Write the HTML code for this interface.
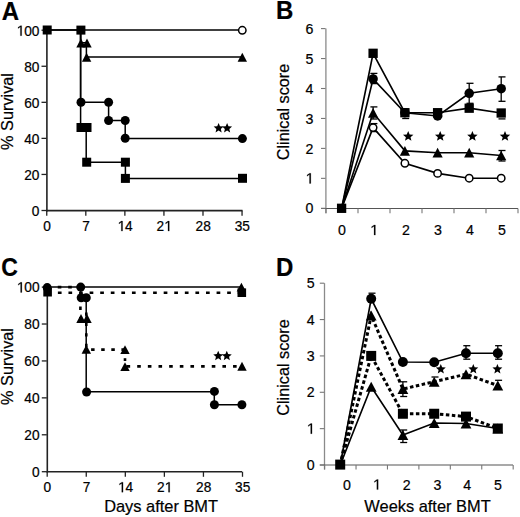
<!DOCTYPE html>
<html><head><meta charset="utf-8"><style>
html,body{margin:0;padding:0;background:#fff;}
svg{display:block;}
text{font-family:"Liberation Sans", sans-serif;fill:#000;stroke:#000;stroke-width:0.2px;}
</style></head><body>
<svg width="520" height="517" viewBox="0 0 520 517">
<rect width="520" height="517" fill="#fff"/>
<line x1="46.9" y1="30" x2="46.9" y2="211.5" stroke="#222" stroke-width="1.6" />
<line x1="46" y1="210.6" x2="242.5" y2="210.6" stroke="#222" stroke-width="1.6" />
<line x1="41.5" y1="210.5" x2="46.5" y2="210.5" stroke="#222" stroke-width="1.3" />
<text transform="translate(31.78,216) scale(1.03,1.1)" font-size="13.3">0</text>
<line x1="41.5" y1="174.44" x2="46.5" y2="174.44" stroke="#222" stroke-width="1.3" />
<text transform="translate(24.16,179.94) scale(1.03,1.1)" font-size="13.3">2</text>
<text transform="translate(31.78,179.94) scale(1.03,1.1)" font-size="13.3">0</text>
<line x1="41.5" y1="138.38" x2="46.5" y2="138.38" stroke="#222" stroke-width="1.3" />
<text transform="translate(24.16,143.88) scale(1.03,1.1)" font-size="13.3">4</text>
<text transform="translate(31.78,143.88) scale(1.03,1.1)" font-size="13.3">0</text>
<line x1="41.5" y1="102.32" x2="46.5" y2="102.32" stroke="#222" stroke-width="1.3" />
<text transform="translate(24.16,107.82) scale(1.03,1.1)" font-size="13.3">6</text>
<text transform="translate(31.78,107.82) scale(1.03,1.1)" font-size="13.3">0</text>
<line x1="41.5" y1="66.26" x2="46.5" y2="66.26" stroke="#222" stroke-width="1.3" />
<text transform="translate(24.16,71.76) scale(1.03,1.1)" font-size="13.3">8</text>
<text transform="translate(31.78,71.76) scale(1.03,1.1)" font-size="13.3">0</text>
<line x1="41.5" y1="30.2" x2="46.5" y2="30.2" stroke="#222" stroke-width="1.3" />
<path d="M575,0V1230L225,1000V1175L590,1409H770V0Z" transform="translate(16.54,35.7) scale(0.00669,-0.00714)" fill="#000" stroke="#000" stroke-width="0.2" vector-effect="non-scaling-stroke"/>
<text transform="translate(24.16,35.7) scale(1.03,1.1)" font-size="13.3">0</text>
<text transform="translate(31.78,35.7) scale(1.03,1.1)" font-size="13.3">0</text>
<line x1="46.75" y1="210.6" x2="46.75" y2="215.8" stroke="#222" stroke-width="1.3" />
<text transform="translate(43.14,231.1) scale(1.03,1.1)" font-size="13.3">0</text>
<line x1="85.81" y1="210.6" x2="85.81" y2="215.8" stroke="#222" stroke-width="1.3" />
<text transform="translate(82.2,231.1) scale(1.03,1.1)" font-size="13.3">7</text>
<line x1="124.87" y1="210.6" x2="124.87" y2="215.8" stroke="#222" stroke-width="1.3" />
<path d="M575,0V1230L225,1000V1175L590,1409H770V0Z" transform="translate(117.45,231.1) scale(0.00669,-0.00714)" fill="#000" stroke="#000" stroke-width="0.2" vector-effect="non-scaling-stroke"/>
<text transform="translate(125.07,231.1) scale(1.03,1.1)" font-size="13.3">4</text>
<line x1="163.93" y1="210.6" x2="163.93" y2="215.8" stroke="#222" stroke-width="1.3" />
<text transform="translate(156.51,231.1) scale(1.03,1.1)" font-size="13.3">2</text>
<path d="M575,0V1230L225,1000V1175L590,1409H770V0Z" transform="translate(164.13,231.1) scale(0.00669,-0.00714)" fill="#000" stroke="#000" stroke-width="0.2" vector-effect="non-scaling-stroke"/>
<line x1="202.99" y1="210.6" x2="202.99" y2="215.8" stroke="#222" stroke-width="1.3" />
<text transform="translate(195.57,231.1) scale(1.03,1.1)" font-size="13.3">2</text>
<text transform="translate(203.19,231.1) scale(1.03,1.1)" font-size="13.3">8</text>
<line x1="242.05" y1="210.6" x2="242.05" y2="215.8" stroke="#222" stroke-width="1.3" />
<text transform="translate(234.63,231.1) scale(1.03,1.1)" font-size="13.3">3</text>
<text transform="translate(242.25,231.1) scale(1.03,1.1)" font-size="13.3">5</text>
<text transform="translate(1.8,19.7) scale(1,1.07)" font-size="24" text-anchor="start" font-weight="bold" >A</text>
<text transform="translate(13.2,111.5) rotate(-90)" font-size="16.3" text-anchor="middle">% Survival</text>
<polyline points="47,30.1 242.3,30.1" fill="none" stroke="#000" stroke-width="1.5" stroke-linecap="butt" stroke-linejoin="miter"/>
<polyline points="47,30.1 80.6,30.1 80.6,42.8 86.4,42.8 86.4,57.1 242.3,57.1" fill="none" stroke="#000" stroke-width="1.5" stroke-linecap="butt" stroke-linejoin="miter"/>
<polyline points="80.6,30 80.6,102.3 108.6,102.3 108.6,120.5 125.2,120.5 125.2,138.4 242.4,138.4" fill="none" stroke="#000" stroke-width="1.5" stroke-linecap="butt" stroke-linejoin="miter"/>
<polyline points="80.6,30 80.6,127.5 86.2,127.5 86.2,162.2 125.4,162.2 125.4,178.4 242.5,178.4" fill="none" stroke="#000" stroke-width="1.5" stroke-linecap="butt" stroke-linejoin="miter"/>
<circle cx="242.3" cy="30.3" r="3.7" fill="#fff" stroke="#000" stroke-width="1.5"/>
<rect x="42.7" y="25.5" width="9" height="9" fill="#000"/>
<rect x="76.4" y="25.6" width="9" height="9" fill="#000"/>
<polygon points="81,38.55 76.3,47.45 85.7,47.45" fill="#000"/>
<polygon points="87,38.55 82.3,47.45 91.7,47.45" fill="#000"/>
<polygon points="86.6,52.85 81.9,61.75 91.3,61.75" fill="#000"/>
<polygon points="242.3,52.85 237.6,61.75 247,61.75" fill="#000"/>
<circle cx="81" cy="102.3" r="4.5" fill="#000"/>
<circle cx="108.6" cy="102.3" r="4.5" fill="#000"/>
<circle cx="108.6" cy="120.5" r="4.5" fill="#000"/>
<circle cx="125.2" cy="120.5" r="4.5" fill="#000"/>
<circle cx="125.2" cy="138.3" r="4.5" fill="#000"/>
<circle cx="242.4" cy="138.6" r="4.5" fill="#000"/>
<rect x="76.5" y="123" width="9" height="9" fill="#000"/>
<rect x="82.5" y="123" width="9" height="9" fill="#000"/>
<rect x="82.2" y="157.7" width="9" height="9" fill="#000"/>
<rect x="120.9" y="157.7" width="9" height="9" fill="#000"/>
<rect x="120.9" y="173.9" width="9" height="9" fill="#000"/>
<rect x="238" y="173.8" width="9" height="9" fill="#000"/>
<polygon points="218.6,123 219.98,126.3 223.55,126.59 220.83,128.93 221.66,132.41 218.6,130.55 215.54,132.41 216.37,128.93 213.65,126.59 217.22,126.3" fill="#000"/>
<polygon points="227.1,123 228.48,126.3 232.05,126.59 229.33,128.93 230.16,132.41 227.1,130.55 224.04,132.41 224.87,128.93 222.15,126.59 225.72,126.3" fill="#000"/>
<line x1="325.9" y1="28.6" x2="325.9" y2="213.2" stroke="#8a8a8a" stroke-width="1.3" />
<line x1="321" y1="208.5" x2="518" y2="208.5" stroke="#555" stroke-width="1.1" />
<line x1="321" y1="208.3" x2="325.5" y2="208.3" stroke="#777" stroke-width="1.1" />
<text transform="translate(305.5,213.4) scale(1,1.04)" font-size="14.2">0</text>
<line x1="321" y1="178.35" x2="325.5" y2="178.35" stroke="#777" stroke-width="1.1" />
<path d="M575,0V1230L225,1000V1175L590,1409H770V0Z" transform="translate(305.5,183.45) scale(0.00693,-0.00721)" fill="#000" stroke="#000" stroke-width="0.2" vector-effect="non-scaling-stroke"/>
<line x1="321" y1="148.4" x2="325.5" y2="148.4" stroke="#777" stroke-width="1.1" />
<text transform="translate(305.5,153.5) scale(1,1.04)" font-size="14.2">2</text>
<line x1="321" y1="118.45" x2="325.5" y2="118.45" stroke="#777" stroke-width="1.1" />
<text transform="translate(305.5,123.55) scale(1,1.04)" font-size="14.2">3</text>
<line x1="321" y1="88.5" x2="325.5" y2="88.5" stroke="#777" stroke-width="1.1" />
<text transform="translate(305.5,93.6) scale(1,1.04)" font-size="14.2">4</text>
<line x1="321" y1="58.55" x2="325.5" y2="58.55" stroke="#777" stroke-width="1.1" />
<text transform="translate(305.5,63.65) scale(1,1.04)" font-size="14.2">5</text>
<line x1="321" y1="28.6" x2="325.5" y2="28.6" stroke="#777" stroke-width="1.1" />
<text transform="translate(305.5,33.7) scale(1,1.04)" font-size="14.2">6</text>
<line x1="326" y1="208.5" x2="326" y2="213.2" stroke="#777" stroke-width="1.1" />
<line x1="358" y1="208.5" x2="358" y2="213.2" stroke="#777" stroke-width="1.1" />
<line x1="390" y1="208.5" x2="390" y2="213.2" stroke="#777" stroke-width="1.1" />
<line x1="422" y1="208.5" x2="422" y2="213.2" stroke="#777" stroke-width="1.1" />
<line x1="454" y1="208.5" x2="454" y2="213.2" stroke="#777" stroke-width="1.1" />
<line x1="486" y1="208.5" x2="486" y2="213.2" stroke="#777" stroke-width="1.1" />
<line x1="518" y1="208.5" x2="518" y2="213.2" stroke="#777" stroke-width="1.1" />
<text transform="translate(338.05,235.1) scale(1,1.04)" font-size="14.2">0</text>
<path d="M575,0V1230L225,1000V1175L590,1409H770V0Z" transform="translate(370.05,235.1) scale(0.00693,-0.00721)" fill="#000" stroke="#000" stroke-width="0.2" vector-effect="non-scaling-stroke"/>
<text transform="translate(402.05,235.1) scale(1,1.04)" font-size="14.2">2</text>
<text transform="translate(434.05,235.1) scale(1,1.04)" font-size="14.2">3</text>
<text transform="translate(466.05,235.1) scale(1,1.04)" font-size="14.2">4</text>
<text transform="translate(498.05,235.1) scale(1,1.04)" font-size="14.2">5</text>
<text transform="translate(276,19.2) scale(1,1.07)" font-size="24" text-anchor="start" font-weight="bold" >B</text>
<text transform="translate(288.7,112) rotate(-90)" font-size="16.25" text-anchor="middle">Clinical score</text>
<polyline points="341.6,208.3 373.1,127.6 404.9,163.3 437.6,173.4 469.2,178.2 501.2,178.2" fill="none" stroke="#000" stroke-width="1.65" stroke-linecap="butt" stroke-linejoin="miter"/>
<polyline points="341.6,208.3 373.1,112.8 404.9,150.9 437.6,152.7 469.2,152.7 501.2,155.5" fill="none" stroke="#000" stroke-width="1.65" stroke-linecap="butt" stroke-linejoin="miter"/>
<polyline points="341.6,208.3 373.1,78.9 404.9,112.7 437.6,116 469.2,93.3 501.2,88.7" fill="none" stroke="#000" stroke-width="1.65" stroke-linecap="butt" stroke-linejoin="miter"/>
<polyline points="341.6,208.3 373.1,53.3 404.9,112.7 437.6,112.7 469.2,108.2 501.2,113" fill="none" stroke="#000" stroke-width="1.65" stroke-linecap="butt" stroke-linejoin="miter"/>
<line x1="373.1" y1="73.4" x2="373.1" y2="83.6" stroke="#000" stroke-width="1.3" />
<line x1="370.4" y1="73.4" x2="377.4" y2="73.4" stroke="#000" stroke-width="1.3" />
<line x1="370.4" y1="83.6" x2="377.4" y2="83.6" stroke="#000" stroke-width="1.3" />
<line x1="373.1" y1="106.9" x2="373.1" y2="119" stroke="#000" stroke-width="1.3" />
<line x1="370.4" y1="106.9" x2="377.4" y2="106.9" stroke="#000" stroke-width="1.3" />
<line x1="370.4" y1="119" x2="377.4" y2="119" stroke="#000" stroke-width="1.3" />
<line x1="373.1" y1="123.6" x2="373.1" y2="131.6" stroke="#000" stroke-width="1.3" />
<line x1="370.4" y1="123.6" x2="377.4" y2="123.6" stroke="#000" stroke-width="1.3" />
<line x1="370.4" y1="131.6" x2="377.4" y2="131.6" stroke="#000" stroke-width="1.3" />
<line x1="402.2" y1="118.5" x2="409.2" y2="118.5" stroke="#000" stroke-width="1.3" />
<line x1="469.2" y1="83.3" x2="469.2" y2="103.3" stroke="#000" stroke-width="1.3" />
<line x1="466.5" y1="83.3" x2="473.5" y2="83.3" stroke="#000" stroke-width="1.3" />
<line x1="466.5" y1="103.3" x2="473.5" y2="103.3" stroke="#000" stroke-width="1.3" />
<line x1="501.2" y1="76.9" x2="501.2" y2="101.3" stroke="#000" stroke-width="1.3" />
<line x1="498.5" y1="76.9" x2="505.5" y2="76.9" stroke="#000" stroke-width="1.3" />
<line x1="498.5" y1="101.3" x2="505.5" y2="101.3" stroke="#000" stroke-width="1.3" />
<line x1="498.5" y1="118.9" x2="505.5" y2="118.9" stroke="#000" stroke-width="1.3" />
<line x1="501.2" y1="150.5" x2="501.2" y2="161" stroke="#000" stroke-width="1.3" />
<line x1="498.5" y1="150.5" x2="505.5" y2="150.5" stroke="#000" stroke-width="1.3" />
<line x1="498.5" y1="161" x2="505.5" y2="161" stroke="#000" stroke-width="1.3" />
<rect x="336.95" y="203.65" width="9.3" height="9.3" fill="#000"/>
<rect x="368.45" y="48.65" width="9.3" height="9.3" fill="#000"/>
<rect x="400.25" y="108.05" width="9.3" height="9.3" fill="#000"/>
<rect x="432.95" y="108.05" width="9.3" height="9.3" fill="#000"/>
<rect x="464.55" y="103.55" width="9.3" height="9.3" fill="#000"/>
<rect x="496.55" y="108.35" width="9.3" height="9.3" fill="#000"/>
<circle cx="373.1" cy="78.9" r="4.75" fill="#000"/>
<circle cx="404.9" cy="112.7" r="4.75" fill="#000"/>
<circle cx="437.6" cy="116" r="4.75" fill="#000"/>
<circle cx="469.2" cy="93.3" r="4.75" fill="#000"/>
<circle cx="501.2" cy="88.7" r="4.75" fill="#000"/>
<polygon points="373.1,107.95 368,117.65 378.2,117.65" fill="#000"/>
<polygon points="404.9,146.05 399.8,155.75 410,155.75" fill="#000"/>
<polygon points="437.6,147.85 432.5,157.55 442.7,157.55" fill="#000"/>
<polygon points="469.2,147.85 464.1,157.55 474.3,157.55" fill="#000"/>
<polygon points="501.2,150.65 496.1,160.35 506.3,160.35" fill="#000"/>
<circle cx="373.1" cy="127.6" r="3.7" fill="#fff" stroke="#000" stroke-width="1.5"/>
<circle cx="404.9" cy="163.3" r="3.7" fill="#fff" stroke="#000" stroke-width="1.5"/>
<circle cx="437.6" cy="173.4" r="3.7" fill="#fff" stroke="#000" stroke-width="1.5"/>
<circle cx="469.2" cy="178.2" r="3.7" fill="#fff" stroke="#000" stroke-width="1.5"/>
<circle cx="501.2" cy="178.2" r="3.7" fill="#fff" stroke="#000" stroke-width="1.5"/>
<polygon points="408.2,130.9 409.64,134.42 413.43,134.7 410.53,137.16 411.43,140.85 408.2,138.85 404.97,140.85 405.87,137.16 402.97,134.7 406.76,134.42" fill="#000"/>
<polygon points="440.2,130.9 441.64,134.42 445.43,134.7 442.53,137.16 443.43,140.85 440.2,138.85 436.97,140.85 437.87,137.16 434.97,134.7 438.76,134.42" fill="#000"/>
<polygon points="472.4,130.9 473.84,134.42 477.63,134.7 474.73,137.16 475.63,140.85 472.4,138.85 469.17,140.85 470.07,137.16 467.17,134.7 470.96,134.42" fill="#000"/>
<polygon points="505,130.9 506.44,134.42 510.23,134.7 507.33,137.16 508.23,140.85 505,138.85 501.77,140.85 502.67,137.16 499.77,134.7 503.56,134.42" fill="#000"/>
<line x1="47.3" y1="287" x2="47.3" y2="472.5" stroke="#222" stroke-width="1.6" />
<line x1="46.5" y1="471.7" x2="242" y2="471.7" stroke="#222" stroke-width="1.6" />
<line x1="41.8" y1="471.7" x2="46.8" y2="471.7" stroke="#222" stroke-width="1.3" />
<text transform="translate(31.98,477) scale(1.03,1.1)" font-size="13.3">0</text>
<line x1="41.8" y1="434.78" x2="46.8" y2="434.78" stroke="#222" stroke-width="1.3" />
<text transform="translate(24.36,440.08) scale(1.03,1.1)" font-size="13.3">2</text>
<text transform="translate(31.98,440.08) scale(1.03,1.1)" font-size="13.3">0</text>
<line x1="41.8" y1="397.86" x2="46.8" y2="397.86" stroke="#222" stroke-width="1.3" />
<text transform="translate(24.36,403.16) scale(1.03,1.1)" font-size="13.3">4</text>
<text transform="translate(31.98,403.16) scale(1.03,1.1)" font-size="13.3">0</text>
<line x1="41.8" y1="360.94" x2="46.8" y2="360.94" stroke="#222" stroke-width="1.3" />
<text transform="translate(24.36,366.24) scale(1.03,1.1)" font-size="13.3">6</text>
<text transform="translate(31.98,366.24) scale(1.03,1.1)" font-size="13.3">0</text>
<line x1="41.8" y1="324.02" x2="46.8" y2="324.02" stroke="#222" stroke-width="1.3" />
<text transform="translate(24.36,329.32) scale(1.03,1.1)" font-size="13.3">8</text>
<text transform="translate(31.98,329.32) scale(1.03,1.1)" font-size="13.3">0</text>
<line x1="41.8" y1="287.1" x2="46.8" y2="287.1" stroke="#222" stroke-width="1.3" />
<path d="M575,0V1230L225,1000V1175L590,1409H770V0Z" transform="translate(16.74,292.4) scale(0.00669,-0.00714)" fill="#000" stroke="#000" stroke-width="0.2" vector-effect="non-scaling-stroke"/>
<text transform="translate(24.36,292.4) scale(1.03,1.1)" font-size="13.3">0</text>
<text transform="translate(31.98,292.4) scale(1.03,1.1)" font-size="13.3">0</text>
<line x1="47.2" y1="471.7" x2="47.2" y2="476.8" stroke="#222" stroke-width="1.3" />
<text transform="translate(43.59,492.2) scale(1.03,1.1)" font-size="13.3">0</text>
<line x1="86.26" y1="471.7" x2="86.26" y2="476.8" stroke="#222" stroke-width="1.3" />
<text transform="translate(82.65,492.2) scale(1.03,1.1)" font-size="13.3">7</text>
<line x1="125.32" y1="471.7" x2="125.32" y2="476.8" stroke="#222" stroke-width="1.3" />
<path d="M575,0V1230L225,1000V1175L590,1409H770V0Z" transform="translate(117.9,492.2) scale(0.00669,-0.00714)" fill="#000" stroke="#000" stroke-width="0.2" vector-effect="non-scaling-stroke"/>
<text transform="translate(125.52,492.2) scale(1.03,1.1)" font-size="13.3">4</text>
<line x1="164.38" y1="471.7" x2="164.38" y2="476.8" stroke="#222" stroke-width="1.3" />
<text transform="translate(156.96,492.2) scale(1.03,1.1)" font-size="13.3">2</text>
<path d="M575,0V1230L225,1000V1175L590,1409H770V0Z" transform="translate(164.58,492.2) scale(0.00669,-0.00714)" fill="#000" stroke="#000" stroke-width="0.2" vector-effect="non-scaling-stroke"/>
<line x1="203.44" y1="471.7" x2="203.44" y2="476.8" stroke="#222" stroke-width="1.3" />
<text transform="translate(196.02,492.2) scale(1.03,1.1)" font-size="13.3">2</text>
<text transform="translate(203.64,492.2) scale(1.03,1.1)" font-size="13.3">8</text>
<line x1="242.5" y1="471.7" x2="242.5" y2="476.8" stroke="#222" stroke-width="1.3" />
<text transform="translate(235.08,492.2) scale(1.03,1.1)" font-size="13.3">3</text>
<text transform="translate(242.7,492.2) scale(1.03,1.1)" font-size="13.3">5</text>
<text transform="translate(1.3,275.6) scale(0.96,1.07)" font-size="24" text-anchor="start" font-weight="bold" >C</text>
<text transform="translate(13.3,366.5) rotate(-90)" font-size="16.3" text-anchor="middle">% Survival</text>
<text x="161.1" y="512" font-size="16.4" text-anchor="middle" font-weight="normal" >Days after BMT</text>
<polyline points="47.3,287.1 241.4,287.1" fill="none" stroke="#000" stroke-width="1.5" stroke-linecap="butt" stroke-linejoin="miter"/>
<polyline points="47.3,292.8 241.8,292.8" fill="none" stroke="#000" stroke-width="2.6" stroke-linecap="butt" stroke-linejoin="miter" stroke-dasharray="3.7,6.88"/>
<polyline points="80.8,287.1 80.8,297.8 86.2,297.8 86.2,391.8 214.3,391.8 214.3,404.7 241.9,404.7" fill="none" stroke="#000" stroke-width="1.5" stroke-linecap="butt" stroke-linejoin="miter"/>
<polyline points="47.3,287.1 80.4,287.1" fill="none" stroke="#000" stroke-width="2.6" stroke-linecap="butt" stroke-linejoin="miter" stroke-dasharray="3.6,6.85"/>
<polyline points="80.4,285.7 80.4,318.5" fill="none" stroke="#000" stroke-width="2.6" stroke-linecap="butt" stroke-linejoin="miter" stroke-dasharray="3.5,6.95"/>
<polyline points="86.3,312.5 86.3,349.6" fill="none" stroke="#000" stroke-width="2.6" stroke-linecap="butt" stroke-linejoin="miter" stroke-dasharray="3.2,7.2"/>
<polyline points="91.1,349.6 125,349.6" fill="none" stroke="#000" stroke-width="2.6" stroke-linecap="butt" stroke-linejoin="miter" stroke-dasharray="3.5,6.6"/>
<polyline points="125,358.2 125,361" fill="none" stroke="#000" stroke-width="2.6" stroke-linecap="butt" stroke-linejoin="miter"/>
<polyline points="126.55,366.4 242,366.4" fill="none" stroke="#000" stroke-width="2.6" stroke-linecap="butt" stroke-linejoin="miter" stroke-dasharray="3.6,7.05"/>
<circle cx="47.2" cy="287.6" r="4.5" fill="#000"/>
<rect x="43.3" y="287.9" width="8.6" height="8.6" fill="#000"/>
<circle cx="80.7" cy="287.1" r="4.5" fill="#000"/>
<circle cx="81.2" cy="297.8" r="4.5" fill="#000"/>
<circle cx="86.3" cy="297.8" r="4.5" fill="#000"/>
<polygon points="81,314.05 76.3,322.95 85.7,322.95" fill="#000"/>
<polygon points="87,314.05 82.3,322.95 91.7,322.95" fill="#000"/>
<polygon points="86.3,344.85 81.6,353.75 91,353.75" fill="#000"/>
<polygon points="125,345.15 120.3,354.05 129.7,354.05" fill="#000"/>
<polygon points="125,362.15 120.3,371.05 129.7,371.05" fill="#000"/>
<polygon points="242,361.85 237.3,370.75 246.7,370.75" fill="#000"/>
<circle cx="86.6" cy="392" r="4.5" fill="#000"/>
<circle cx="214.4" cy="391.4" r="4.5" fill="#000"/>
<circle cx="214.4" cy="404.7" r="4.5" fill="#000"/>
<circle cx="241.9" cy="404.7" r="4.5" fill="#000"/>
<polygon points="241.4,282.65 236.7,291.55 246.1,291.55" fill="#000"/>
<rect x="237.5" y="288.4" width="8.6" height="8.6" fill="#000"/>
<polygon points="218.2,350.8 219.58,354.1 223.15,354.39 220.43,356.73 221.26,360.21 218.2,358.35 215.14,360.21 215.97,356.73 213.25,354.39 216.82,354.1" fill="#000"/>
<polygon points="226.8,350.8 228.18,354.1 231.75,354.39 229.03,356.73 229.86,360.21 226.8,358.35 223.74,360.21 224.57,356.73 221.85,354.39 225.42,354.1" fill="#000"/>
<line x1="324.5" y1="283.2" x2="324.5" y2="469.5" stroke="#8a8a8a" stroke-width="1.3" />
<line x1="319.8" y1="465" x2="513" y2="465" stroke="#555" stroke-width="1.1" />
<line x1="319.8" y1="465" x2="324.3" y2="465" stroke="#777" stroke-width="1.1" />
<text transform="translate(306.7,470.1) scale(1,1.04)" font-size="14.2">0</text>
<line x1="319.8" y1="428.64" x2="324.3" y2="428.64" stroke="#777" stroke-width="1.1" />
<path d="M575,0V1230L225,1000V1175L590,1409H770V0Z" transform="translate(306.7,433.74) scale(0.00693,-0.00721)" fill="#000" stroke="#000" stroke-width="0.2" vector-effect="non-scaling-stroke"/>
<line x1="319.8" y1="392.28" x2="324.3" y2="392.28" stroke="#777" stroke-width="1.1" />
<text transform="translate(306.7,397.38) scale(1,1.04)" font-size="14.2">2</text>
<line x1="319.8" y1="355.92" x2="324.3" y2="355.92" stroke="#777" stroke-width="1.1" />
<text transform="translate(306.7,361.02) scale(1,1.04)" font-size="14.2">3</text>
<line x1="319.8" y1="319.56" x2="324.3" y2="319.56" stroke="#777" stroke-width="1.1" />
<text transform="translate(306.7,324.66) scale(1,1.04)" font-size="14.2">4</text>
<line x1="319.8" y1="283.2" x2="324.3" y2="283.2" stroke="#777" stroke-width="1.1" />
<text transform="translate(306.7,288.3) scale(1,1.04)" font-size="14.2">5</text>
<line x1="324.6" y1="465" x2="324.6" y2="469.5" stroke="#777" stroke-width="1.1" />
<line x1="356.03" y1="465" x2="356.03" y2="469.5" stroke="#777" stroke-width="1.1" />
<line x1="387.46" y1="465" x2="387.46" y2="469.5" stroke="#777" stroke-width="1.1" />
<line x1="418.89" y1="465" x2="418.89" y2="469.5" stroke="#777" stroke-width="1.1" />
<line x1="450.32" y1="465" x2="450.32" y2="469.5" stroke="#777" stroke-width="1.1" />
<line x1="481.75" y1="465" x2="481.75" y2="469.5" stroke="#777" stroke-width="1.1" />
<line x1="513.18" y1="465" x2="513.18" y2="469.5" stroke="#777" stroke-width="1.1" />
<text transform="translate(342.95,489.6) scale(1,1.04)" font-size="14.2">0</text>
<path d="M575,0V1230L225,1000V1175L590,1409H770V0Z" transform="translate(372.85,489.6) scale(0.00693,-0.00721)" fill="#000" stroke="#000" stroke-width="0.2" vector-effect="non-scaling-stroke"/>
<text transform="translate(402.65,489.6) scale(1,1.04)" font-size="14.2">2</text>
<text transform="translate(433.55,489.6) scale(1,1.04)" font-size="14.2">3</text>
<text transform="translate(463.15,489.6) scale(1,1.04)" font-size="14.2">4</text>
<text transform="translate(493.95,489.6) scale(1,1.04)" font-size="14.2">5</text>
<text transform="translate(276.1,275.7) scale(1,1.07)" font-size="24" text-anchor="start" font-weight="bold" >D</text>
<text transform="translate(289.3,367.5) rotate(-90)" font-size="16.25" text-anchor="middle">Clinical score</text>
<text x="427.5" y="512" font-size="16.4" text-anchor="middle" font-weight="normal" >Weeks after BMT</text>
<polyline points="340.2,465 371.2,298.8 402.9,362 434.2,362.2 466,353.2 497.8,353.2" fill="none" stroke="#000" stroke-width="1.65" stroke-linecap="butt" stroke-linejoin="miter"/>
<polyline points="340.2,465 371.2,386.7 402.9,435 434.2,423 466,423.5 497.8,428.5" fill="none" stroke="#000" stroke-width="1.65" stroke-linecap="butt" stroke-linejoin="miter"/>
<polyline points="340.2,465 371.2,315.5 402.9,389 434.2,381.7 466,374.2 497.8,385.5" fill="none" stroke="#000" stroke-width="3" stroke-linecap="butt" stroke-linejoin="miter" stroke-dasharray="3.5,2.5"/>
<polyline points="340.2,464.6 371.2,355.9 402.9,413.75 434.2,413.75 466,416.6 497.8,428.5" fill="none" stroke="#000" stroke-width="3" stroke-linecap="butt" stroke-linejoin="miter" stroke-dasharray="3.5,2.5"/>
<line x1="368.5" y1="293.2" x2="375.5" y2="293.2" stroke="#000" stroke-width="1.3" />
<line x1="402.9" y1="381.8" x2="402.9" y2="396.5" stroke="#000" stroke-width="1.3" />
<line x1="400.2" y1="381.8" x2="407.2" y2="381.8" stroke="#000" stroke-width="1.3" />
<line x1="400.2" y1="396.5" x2="407.2" y2="396.5" stroke="#000" stroke-width="1.3" />
<line x1="466" y1="345.7" x2="466" y2="359.2" stroke="#000" stroke-width="1.3" />
<line x1="463.3" y1="345.7" x2="470.3" y2="345.7" stroke="#000" stroke-width="1.3" />
<line x1="463.3" y1="359.2" x2="470.3" y2="359.2" stroke="#000" stroke-width="1.3" />
<line x1="497.8" y1="345.7" x2="497.8" y2="359.2" stroke="#000" stroke-width="1.3" />
<line x1="495.1" y1="345.7" x2="502.1" y2="345.7" stroke="#000" stroke-width="1.3" />
<line x1="495.1" y1="359.2" x2="502.1" y2="359.2" stroke="#000" stroke-width="1.3" />
<line x1="431.5" y1="377" x2="438.5" y2="377" stroke="#000" stroke-width="1.3" />
<line x1="495.1" y1="380.3" x2="502.1" y2="380.3" stroke="#000" stroke-width="1.3" />
<line x1="402.9" y1="430" x2="402.9" y2="442.5" stroke="#000" stroke-width="1.3" />
<line x1="400.2" y1="430" x2="407.2" y2="430" stroke="#000" stroke-width="1.3" />
<line x1="400.2" y1="442.5" x2="407.2" y2="442.5" stroke="#000" stroke-width="1.3" />
<polygon points="371.2,381.7 365.8,391.7 376.6,391.7" fill="#000"/>
<polygon points="402.9,430 397.5,440 408.3,440" fill="#000"/>
<polygon points="434.2,418 428.8,428 439.6,428" fill="#000"/>
<polygon points="466,418.5 460.6,428.5 471.4,428.5" fill="#000"/>
<polygon points="497.8,423.5 492.4,433.5 503.2,433.5" fill="#000"/>
<rect x="335.2" y="459.6" width="10" height="10" fill="#000"/>
<rect x="366.2" y="350.9" width="10" height="10" fill="#000"/>
<rect x="397.9" y="408.75" width="10" height="10" fill="#000"/>
<rect x="429.2" y="408.75" width="10" height="10" fill="#000"/>
<rect x="461" y="411.6" width="10" height="10" fill="#000"/>
<rect x="492.8" y="423.5" width="10" height="10" fill="#000"/>
<polygon points="371.2,310.5 365.8,320.5 376.6,320.5" fill="#000"/>
<polygon points="402.9,384 397.5,394 408.3,394" fill="#000"/>
<polygon points="434.2,376.7 428.8,386.7 439.6,386.7" fill="#000"/>
<polygon points="466,369.2 460.6,379.2 471.4,379.2" fill="#000"/>
<polygon points="497.8,380.5 492.4,390.5 503.2,390.5" fill="#000"/>
<circle cx="371.2" cy="298.8" r="5" fill="#000"/>
<circle cx="402.9" cy="362" r="5" fill="#000"/>
<circle cx="434.2" cy="362.2" r="5" fill="#000"/>
<circle cx="466" cy="353.2" r="5" fill="#000"/>
<circle cx="497.8" cy="353.2" r="5" fill="#000"/>
<polygon points="440.8,364 442.15,367.34 445.75,367.59 442.99,369.91 443.86,373.41 440.8,371.5 437.74,373.41 438.61,369.91 435.85,367.59 439.45,367.34" fill="#000"/>
<polygon points="473.3,364 474.65,367.34 478.25,367.59 475.49,369.91 476.36,373.41 473.3,371.5 470.24,373.41 471.11,369.91 468.35,367.59 471.95,367.34" fill="#000"/>
<polygon points="497.4,364 498.75,367.34 502.35,367.59 499.59,369.91 500.46,373.41 497.4,371.5 494.34,373.41 495.21,369.91 492.45,367.59 496.05,367.34" fill="#000"/>
</svg>
</body></html>
